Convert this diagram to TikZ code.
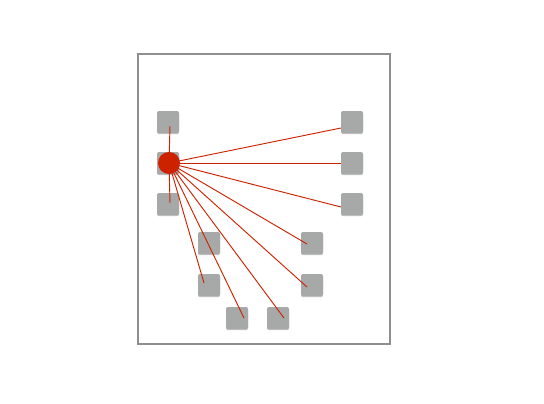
\documentclass[tikz,border=0pt]{standalone}
\usetikzlibrary{shadows}
\definecolor{sqgray}{RGB}{166,169,167}
\definecolor{framegray}{RGB}{142,142,142}
\definecolor{dotred}{RGB}{204,34,0}
\begin{document}
\begin{tikzpicture}[x=0.75pt,y=-0.75pt,
  sq/.style={draw=none,fill=sqgray,minimum size=16.5pt,inner sep=0pt,rounded corners=1.5pt,
    drop shadow={shadow xshift=0pt,shadow yshift=-0.9pt,opacity=0.35,fill=black!70}},
  link/.style={draw=dotred,line width=0.7pt},
  hub/.style={circle,fill=dotred,minimum size=16.5pt,inner sep=0pt}]
\useasboundingbox (0,0) rectangle (544,404);
\node[draw=framegray,line width=1.3pt,minimum width=252*0.75pt,minimum height=290*0.75pt,inner sep=0pt] (frame) at (264,199) {};
% squares
\node[sq] (l1) at (168,122) {};
\node[sq] (l2) at (168,163) {};
\node[sq] (l3) at (168,204) {};
\node[sq] (r1) at (352,122) {};
\node[sq] (r2) at (352,163) {};
\node[sq] (r3) at (352,204) {};
\node[sq] (a1) at (209,243) {};
\node[sq] (a2) at (312,243) {};
\node[sq] (b1) at (209,285) {};
\node[sq] (b2) at (312,285) {};
\node[sq] (c1) at (237,318) {};
\node[sq] (c2) at (278,318) {};
% end points
\coordinate (h) at (169,163);
\coordinate (el1) at (170,126);
\coordinate (el3) at (170,203);
\coordinate (er1) at (341,128);
\coordinate (er2) at (341,163);
\coordinate (er3) at (341,207);
\coordinate (ea2) at (307,244);
\coordinate (eb2) at (307,287);
\coordinate (ec2) at (284,318);
\coordinate (ec1) at (244,318);
\coordinate (eb1) at (204,283);
\foreach \e in {el1,el3,er1,er2,er3,ea2,eb2,ec2,ec1,eb1}
  \draw[link] (h) -- (\e);
\node[hub] (hubnode) at (h) {};
\end{tikzpicture}
\end{document}
